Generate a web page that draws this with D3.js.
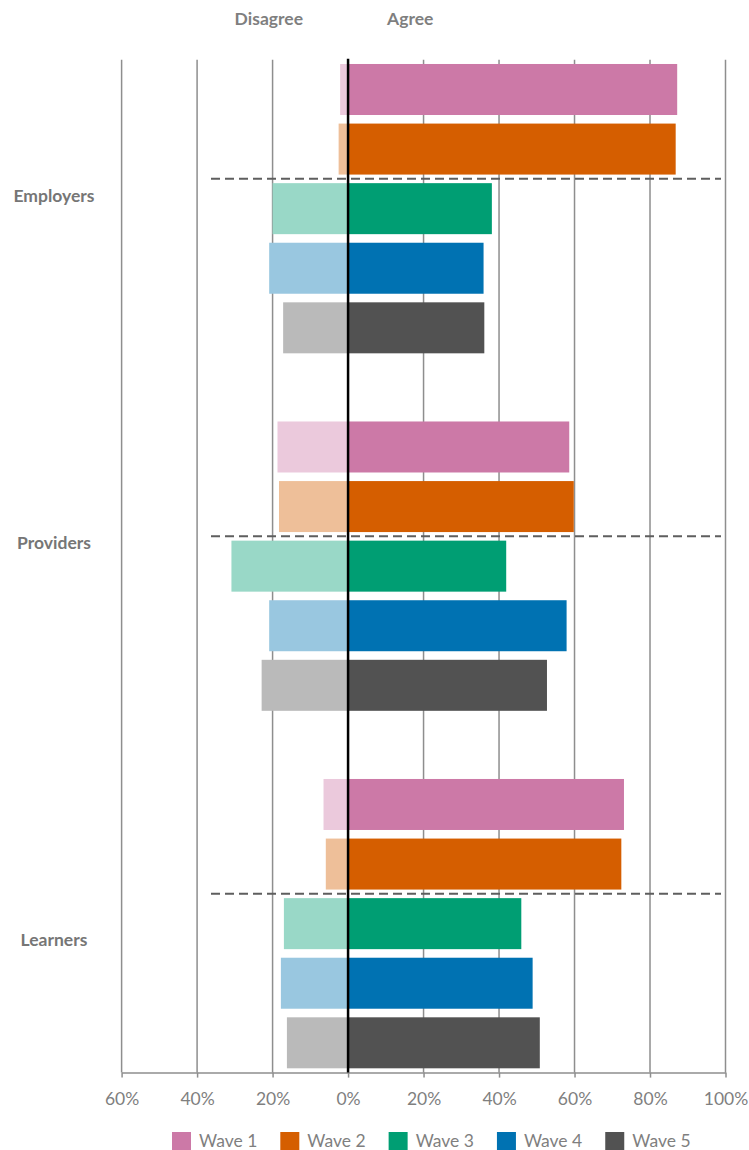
<!DOCTYPE html>
<html>
<head>
<meta charset="utf-8">
<script src="https://cdn.jsdelivr.net/npm/d3@7"></script>
<style>
  html, body { margin: 0; padding: 0; background: #ffffff; }
  svg { display: block; font-family: Lato, "Open Sans", sans-serif; }
</style>
</head>
<body>
<svg id="chart" width="749" height="1150"></svg>
<script>
// Survey responses by group and wave (percent)
const categories = ["Employers", "Providers", "Learners"];
const waves = ["Wave 1", "Wave 2", "Wave 3", "Wave 4", "Wave 5"];

const agreeEmployers    = [87.2, 86.8, 38.1, 35.9, 36.1];
const disagreeEmployers = [2.1, 2.5, 20.0, 20.9, 17.2];
const agreeProviders    = [58.6, 59.8, 41.9, 57.9, 52.7];
const disagreeProviders = [18.7, 18.3, 30.9, 20.9, 22.9];
const agreeLearners     = [73.1, 72.4, 45.9, 48.9, 50.8];
const disagreeLearners  = [6.5, 5.9, 17.0, 17.8, 16.2];

const tickValues = [-60, -40, -20, 0, 20, 40, 60, 80, 100];
const waveColors = ["#CC79A7", "#D55E00", "#009E73", "#0072B2", "#525252"];

const agreeByCategory = [agreeEmployers, agreeProviders, agreeLearners];
const disagreeByCategory = [disagreeEmployers, disagreeProviders, disagreeLearners];

const rows = [];
categories.forEach((c, ci) => {
  waves.forEach((w, wi) => {
    rows.push({ category: c, wave: w, wi, agree: agreeByCategory[ci][wi], disagree: disagreeByCategory[ci][wi] });
  });
});

const svg = d3.select("#chart");
const textGray = "#7f7f7f";

const x = d3.scaleLinear().domain([-60, 100]).range([121.6, 725.5]);

// Each group takes five bar slots, followed by one empty slot
const y0 = d3.scaleBand().domain(categories).range([59.7, 1072.6]).paddingInner(1 / 6).paddingOuter(0);
const y1 = d3.scaleBand().domain(waves).range([0, y0.bandwidth()]).paddingInner(0.144).paddingOuter(0.072);

// Disagree bars use a 40% tint of the wave colour
const lighten = c => { const k = d3.rgb(c); const m = v => Math.round(255 - 0.4 * (255 - v)); return d3.rgb(m(k.r), m(k.g), m(k.b)).formatHex(); };

const plotTop = y0.range()[0];
const plotBottom = y0.range()[1];

// Vertical gridlines
svg.append("g")
  .selectAll("line")
  .data(tickValues.filter(t => t !== 0))
  .join("line")
  .attr("x1", d => x(d)).attr("x2", d => x(d))
  .attr("y1", plotTop).attr("y2", plotBottom)
  .attr("stroke", "#8e8e8e").attr("stroke-width", 1.5);

// Bottom axis
const axis = d3.axisBottom(x).tickValues(tickValues).tickSize(5).tickSizeOuter(0)
  .tickFormat(d => Math.abs(d) + "%");
const axisG = svg.append("g").attr("transform", `translate(0,${plotBottom})`).call(axis);
axisG.select(".domain").attr("stroke", "#8e8e8e").attr("stroke-width", 1.5);
axisG.selectAll(".tick line").attr("stroke", "#8e8e8e").attr("stroke-width", 1.5);
axisG.selectAll(".tick text")
  .attr("fill", textGray).attr("font-size", 17.5).attr("font-family", "Lato, sans-serif")
  .attr("dy", 0).attr("y", 32);

// Bars
const bars = svg.append("g");
bars.selectAll("rect.dis")
  .data(rows)
  .join("rect")
  .attr("class", "dis")
  .attr("x", d => x(-d.disagree))
  .attr("width", d => x(0) - x(-d.disagree))
  .attr("y", d => y0(d.category) + y1(d.wave))
  .attr("height", y1.bandwidth())
  .attr("fill", d => lighten(waveColors[d.wi]));

bars.selectAll("rect.agr")
  .data(rows)
  .join("rect")
  .attr("class", "agr")
  .attr("x", x(0))
  .attr("width", d => x(d.agree) - x(0))
  .attr("y", d => y0(d.category) + y1(d.wave))
  .attr("height", y1.bandwidth())
  .attr("fill", d => waveColors[d.wi]);

// Zero line
svg.append("line")
  .attr("x1", x(0)).attr("x2", x(0))
  .attr("y1", plotTop - 1).attr("y2", plotBottom)
  .attr("stroke", "#000").attr("stroke-width", 2.5);

// Dashed separators between waves 2 and 3
svg.append("g")
  .selectAll("line")
  .data(categories)
  .join("line")
  .attr("x1", 211).attr("x2", 721)
  .attr("y1", d => y0(d) + y1.step() * 2)
  .attr("y2", d => y0(d) + y1.step() * 2)
  .attr("stroke", "#5e5e5e").attr("stroke-width", 2)
  .attr("stroke-dasharray", "9,5");

// Category labels
const labelNudge = [-13, -23, 16];
svg.append("g")
  .selectAll("text")
  .data(categories)
  .join("text")
  .attr("x", 54)
  .attr("y", (d, i) => y0(d) + y0.bandwidth() / 2 + labelNudge[i])
  .attr("dy", "0.35em")
  .attr("text-anchor", "middle")
  .attr("font-size", 17.5).attr("font-weight", "bold")
  .attr("fill", "#767676")
  .text(d => d);

// Column headers
svg.append("text").attr("x", 303).attr("y", 25).attr("text-anchor", "end")
  .attr("font-size", 17.5).attr("font-weight", "bold").attr("fill", textGray).text("Disagree");
svg.append("text").attr("x", 387).attr("y", 25).attr("text-anchor", "start")
  .attr("font-size", 17.5).attr("font-weight", "bold").attr("fill", textGray).text("Agree");

// Legend
const legend = svg.append("g").attr("transform", "translate(172,1132)");
let lx = 0;
waves.forEach((w, i) => {
  const item = legend.append("g").attr("transform", `translate(${lx},0)`);
  item.append("rect").attr("width", 19).attr("height", 18).attr("fill", waveColors[i]);
  const t = item.append("text").attr("x", 27).attr("y", 15)
    .attr("font-size", 17.5).attr("fill", textGray).text(w);
  lx += 27 + t.node().getComputedTextLength() + 23;
});
</script>
</body>
</html>
